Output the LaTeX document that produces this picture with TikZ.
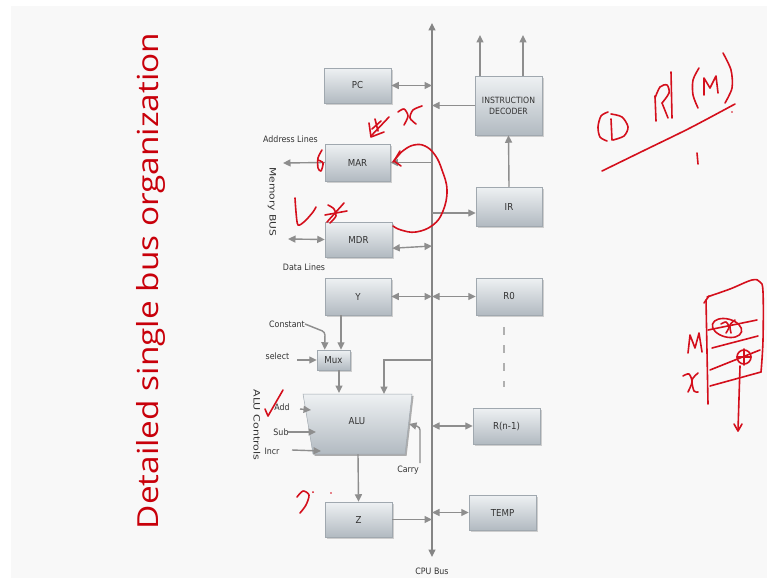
\documentclass[tikz,border=0pt]{standalone}
\usepackage{fontspec}
\setmainfont{DejaVu Sans}[FakeStretch=0.9]
\newfontfamily\titlefnt{Open Sans}
\usetikzlibrary{arrows.meta,calc,shadows}

\definecolor{slidebg}{HTML}{F8F8F8}
\definecolor{boxtop}{HTML}{EEF1F3}
\definecolor{boxbot}{HTML}{B2BAC1}
\definecolor{boxedge}{HTML}{A0A8AF}
\definecolor{arrowgrey}{HTML}{8E8E8E}
\definecolor{busgrey}{HTML}{858585}
\definecolor{txtgrey}{HTML}{333333}
\definecolor{titlered}{HTML}{C8000A}
\definecolor{penred}{HTML}{D40F1C}

\newcommand{\boxfont}{\fontsize{9.6}{11}\selectfont}
\newcommand{\decfont}{\fontsize{8.6}{10}\selectfont}
\newcommand{\lblfont}{\fontsize{8.8}{10}\selectfont}

\begin{document}
\begin{tikzpicture}[x=1pt,y=-1pt,
  >={Triangle[length=7.5pt,width=7pt]},
  arr/.style={draw=arrowgrey,line width=1.4pt},
  regbox/.style={draw=boxedge,line width=0.5pt,top color=boxtop,bottom color=boxbot,
    drop shadow={shadow xshift=1.6pt,shadow yshift=-1.8pt,opacity=0.35},
    font=\boxfont,text=txtgrey,inner sep=0pt,align=center},
  lbl/.style={font=\lblfont,text=txtgrey,inner sep=0pt},
  pen/.style={draw=penred,line width=1.6pt,line cap=round,line join=round}
]
% page and slide background
\fill[white] (0,0) rectangle (767,578);
\fill[slidebg] (11,6) rectangle (767,578);
\useasboundingbox (0,0) rectangle (767,578);

% slide title
\node[rotate=90,text=titlered,font=\titlefnt\fontsize{29}{32}\selectfont,inner sep=0pt]
  (title) at (151,281) {\scalebox{1.15}[1]{Detailed single bus organization}};

% CPU bus
\coordinate (busTop) at (432,23);
\coordinate (busBot) at (432,557);
\draw[draw=busgrey,line width=1.4pt,<->] (busTop) -- (busBot);
\node[lbl] (cpubus) at (432,571) {CPU Bus};

% registers and units
\node[regbox,minimum width=67pt,minimum height=35pt] (PC) at (357.5,85.5) {PC};
\node[regbox,minimum width=67pt,minimum height=59pt,font=\decfont] (DEC) at (508.5,105.5) {INSTRUCTION\\[1pt]DECODER};
\node[regbox,minimum width=65pt,minimum height=37pt] (MAR) at (357.5,162.5) {MAR};
\node[regbox,minimum width=66pt,minimum height=39pt] (IR) at (509,206.5) {IR};
\node[regbox,minimum width=67pt,minimum height=35pt] (MDR) at (358.5,239.5) {MDR};
\node[regbox,minimum width=66pt,minimum height=37pt] (Y) at (358,296.5) {Y};
\node[regbox,minimum width=66pt,minimum height=37pt] (R0) at (509,296.5) {R0};
\node[regbox,minimum width=33pt,minimum height=20pt] (Mux) at (333.5,360) {Mux};
\node[regbox,minimum width=67pt,minimum height=36pt] (RN) at (506.5,426) {R(n-1)};
\node[regbox,minimum width=67pt,minimum height=35pt] (Z) at (358.5,519.5) {Z};
\node[regbox,minimum width=67pt,minimum height=35pt] (TEMP) at (502.5,512.5) {TEMP};

% ALU (trapezoid)
\coordinate (atl) at (303,394);
\coordinate (atr) at (412,394);
\coordinate (abr) at (405,454);
\coordinate (abl) at (313,454);
\fill[black,opacity=0.3] (304.6,395.8) -- (413.6,395.8) -- (406.6,455.8) -- (314.6,455.8) -- cycle;
\shade[top color=boxtop,bottom color=boxbot,draw=boxedge,line width=0.5pt]
  (atl) -- (atr) -- (abr) -- (abl) -- cycle;
\node[font=\boxfont,text=txtgrey] (ALU) at (357,421) {ALU};

% text labels
\node[lbl] (addrl) at (290.5,139) {Address Lines};
\node[lbl] (datal) at (304,267) {Data Lines};
\node[lbl,rotate=-90] (membus) at (272,202) {\scalebox{1.35}[1]{Memory BUS}};
\node[lbl,rotate=-90] (aluctl) at (257,425) {\scalebox{1.4}[1]{ALU Controls}};
\node[lbl] (const) at (287,324) {Constant};
\node[lbl] (sel) at (277.5,356) {select};
\node[lbl] (addl) at (282,407) {Add};
\node[lbl] (subl) at (281,432) {Sub};
\node[lbl] (incl) at (272,451) {Incr};
\node[lbl] (carl) at (408,470) {Carry};

% free connector ends
\coordinate (dec1) at (480,35);
\coordinate (dec2) at (523,35);
\coordinate (addrEnd) at (283,163);
\coordinate (dataEnd) at (288,239);
\coordinate (irIn) at (432,213);
\coordinate (mdrBus) at (432,246);
\coordinate (yMux) at (341,0);
\coordinate (muxAlu) at (339,393);
\coordinate (busAlu) at (384,394);
\coordinate (selIn) at (297,360);
\coordinate (addIn) at (300,409);
\coordinate (addTip) at (311,410);
\coordinate (subIn) at (288,432);
\coordinate (subTip) at (316,432);
\coordinate (incIn) at (292,450);
\coordinate (incTip) at (321,451);
\coordinate (carIn) at (420,463);
\coordinate (carTip) at (409,424);
\coordinate (aluOut) at (358,454);

% connectors
\draw[arr,<->] (PC.east) -- (PC.east -| busTop);
\draw[arr,->] (dec1 |- DEC.north) -- (dec1);
\draw[arr,->] (dec2 |- DEC.north) -- (dec2);
\draw[arr,->] (DEC.west) -- (DEC.west -| busTop);
\draw[arr,->] (MAR.east -| busTop) -- (MAR.east);
\draw[arr,->] (MAR.west) -- (addrEnd);
\draw[arr,->] (irIn) -- (irIn -| IR.west);
\draw[arr,->] (IR.north) -- (DEC.south);
\draw[arr,<->] ($(MDR.south east)+(0,-9)$) -- (mdrBus);
\draw[arr,<->] (dataEnd) -- (MDR.west);
\draw[arr,<->] (Y.east) -- (Y.east -| busTop);
\draw[arr,<->] (Y.east -| busTop) -- (R0.west);
\draw[arr,->] (Y.south -| yMux) -- (Mux.north -| yMux);
\draw[arr,->,rounded corners=3pt] (const.east) -- (325,332) -- ($(Mux.north west)+(8,0)$);
\draw[arr,->] (selIn) -- (Mux.west);
\draw[arr,->] (Mux.south -| muxAlu) -- (muxAlu);
\draw[arr,->] (Mux.east -| busTop) -- (Mux.east -| busAlu) -- (busAlu);
\draw[arr,->] (addIn) -- (addTip);
\draw[arr,->] (subIn) -- (subTip);
\draw[arr,->] (incIn) -- (incTip);
\draw[arr,->,rounded corners=3pt] (carIn) -- (420,427) -- (carTip);
\draw[arr,->] (aluOut) -- (Z.north);
\draw[arr,->] (Z.east) -- (Z.east -| busTop);
\draw[arr,<->] (TEMP.west -| busTop) -- (TEMP.west);
\draw[arr,<->] (RN.west -| busTop) -- (RN.west);
\draw[draw=arrowgrey!70,line width=1.2pt,dash pattern=on 8pt off 10pt] (504,327) -- (504,387);

% ---- pen annotations ----
% loop from MDR back to MAR
\draw[pen] plot[smooth,tension=0.7] coordinates {(393,226) (401,230) (416,232) (433,225) (443,211) (447,190) (442,170) (435,155) (425,146) (414,145) (404,150) (397,157) (393,162)};
\draw[pen] (400,151) -- (394,161) -- (401,166);
% arrow scribble and x above MAR
\draw[pen] (389,117) -- (371,136);
\draw[pen] (369,123) -- (371,137) -- (384,132);
\draw[pen] (375,119) -- (378,131);
\draw[pen] (381,121) -- (372,129);
\draw[pen] plot[smooth] coordinates {(398,112) (404,109) (408,116) (404,125)};
\draw[pen] plot[smooth] coordinates {(422,106) (413,110) (410,118) (416,124)};
% mark left of MAR
\draw[pen] plot[smooth] coordinates {(322,150) (318,158) (318,168) (321,171) (323,163) (318,160)};
% L x near MDR
\draw[pen] plot[smooth] coordinates {(295,198) (296,212) (298,225) (305,221) (313,212) (316,207)};
\draw[pen] plot[smooth] coordinates {(328,205) (334,209) (336,216) (330,223)};
\draw[pen] (344,203) -- (327,222);
\draw[pen] (325,215) -- (347,211);
% tick at Add
\draw[pen] (265,409) -- (268,416) -- (283,390);
% 2 near Z
\draw[pen] plot[smooth] coordinates {(297,497) (303,491) (309,495) (306,505) (300,513)};
\fill[penred] (313,492) circle (1pt);
\fill[penred] (331,493) circle (0.8pt);
% CD R1 (M)
\draw[pen] plot[smooth] coordinates {(608,112) (601,116) (598,127) (600,137) (607,141)};
\draw[pen] (611,119) -- (612,140);
\draw[pen] plot[smooth] coordinates {(611,114) (622,117) (628,127) (624,136) (613,140)};
\draw[pen] (655,96) -- (656,121);
\draw[pen] plot[smooth] coordinates {(655,98) (660,87) (667,85) (669,93) (662,103)};
\draw[pen] (662,103) -- (668,118);
\draw[pen] (671,72) -- (672,118);
\draw[pen] plot[smooth] coordinates {(699,68) (693,80) (693,95) (698,108)};
\draw[pen] (704,95) -- (704,78) -- (710,88) -- (716,76) -- (718,93);
\draw[pen] plot[smooth] coordinates {(723,53) (731,70) (732,88) (725,103)};
\draw[pen] plot[smooth] coordinates {(602,171) (645,150) (690,128) (735,104)};
\draw[pen] (697,153) -- (698,164);
\fill[penred] (732,112) circle (0.8pt);
% memory sketch
\draw[pen] (704,303) -- (709,296);
\draw[pen] (706,300) -- (708,404);
\draw[pen] plot[smooth,tension=0.6] coordinates {(707,297) (730,289) (752,280) (760,282) (763,292) (763,340) (761,372)};
\draw[pen] (708,330) -- (757,320);
\draw[pen] (712,348) -- (758,336);
\draw[pen] (710,370) -- (760,350);
\draw[pen] (710,386) -- (761,372);
\draw[pen,rotate around={-15:(727,328)}] (727,328) ellipse (15 and 9);
\draw[pen] plot[smooth] coordinates {(721,324) (726,322) (729,327) (726,333)};
\draw[pen] plot[smooth] coordinates {(735,320) (730,325) (731,333)};
\draw[pen] (744,357) circle (7);
\draw[pen] (744,349) -- (744,365);
\draw[pen] (737,357) -- (751,357);
\draw[pen] (740,366) -- (738,430);
\draw[pen] (734,424) -- (738,431) -- (742,424);
\draw[pen] (688,353) -- (690,335) -- (695,348) -- (699,333) -- (702,352);
\draw[pen] plot[smooth] coordinates {(683,376) (689,374) (692,382) (688,392)};
\draw[pen] plot[smooth] coordinates {(698,373) (692,380) (694,391) (698,392)};
\end{tikzpicture}
\end{document}
